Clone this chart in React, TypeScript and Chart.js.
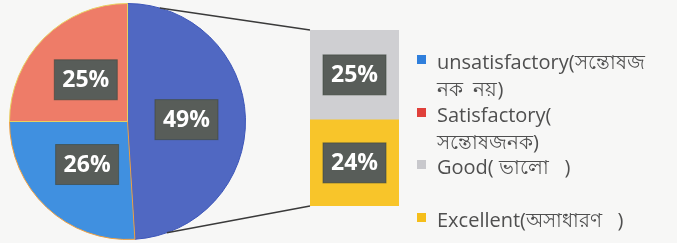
import React, { useEffect, useRef } from "react";
import { Chart, registerables } from "chart.js";

Chart.register(...registerables);

const categories = [
  "unsatisfactory(সন্তোষজনক নয়)",
  "Satisfactory(সন্তোষজনক)",
  "Good( ভালো )",
  "Excellent(অসাধারণ )",
];
const values = [26, 25, 25, 24];
const legendLines = [
  ["unsatisfactory(সন্তোষজ", "নক  নয়)"],
  ["Satisfactory(", "সন্তোষজনক)"],
  ["Good( ভালো   )"],
  ["Excellent(অসাধারণ   )"],
];
const seriesColors = ["#4090e0", "#ee7c68", "#cfcfd2", "#f8c52a"];
const legendColors = ["#2f7fdc", "#e0403a", "#c8c8cc", "#f5be1a"];
const otherColor = "#5068c2";

// Pie: "Other" (Good + Excellent), unsatisfactory, satisfactory
const pieValues = [values[2] + values[3], values[0], values[1]];
const pieColors = [otherColor, seriesColors[0], seriesColors[1]];
const pieBorders = ["#3c55b8", "#f0a040", "#e8d060"];

function drawLabel(ctx: CanvasRenderingContext2D, x: number, y: number, text: string) {
  const w = 63;
  const h = 40;
  ctx.save();
  ctx.fillStyle = "#585d59";
  ctx.fillRect(x - w / 2, y - h / 2, w, h);
  ctx.strokeStyle = "rgba(60,70,60,0.6)";
  ctx.lineWidth = 1;
  ctx.strokeRect(x - w / 2, y - h / 2, w, h);
  ctx.fillStyle = "#ffffff";
  ctx.font = "bold 23px 'Open Sans'";
  ctx.textAlign = "center";
  ctx.textBaseline = "middle";
  ctx.fillText(text, x, y + 1);
  ctx.restore();
}

export default function App() {
  const pieRef = useRef<HTMLCanvasElement>(null);
  const barRef = useRef<HTMLCanvasElement>(null);

  useEffect(() => {
    document.body.style.margin = "0";
    document.body.style.background = "#f7f7f6";
    if (!pieRef.current || !barRef.current) return;

    const pieLabels = {
      id: "pieLabels",
      afterDatasetsDraw(chart: any) {
        const meta = chart.getDatasetMeta(0);
        meta.data.forEach((arc: any, i: number) => {
          const p = arc.tooltipPosition();
          drawLabel(chart.ctx, p.x, p.y, pieValues[i] + "%");
        });
      },
    };

    const pie = new Chart(pieRef.current, {
      type: "pie",
      data: {
        labels: ["Other", categories[0], categories[1]],
        datasets: [
          {
            data: pieValues,
            backgroundColor: pieColors,
            borderColor: pieBorders,
            borderWidth: 1,
          },
        ],
      },
      options: {
        responsive: false,
        animation: false,
        layout: { padding: { left: 9, right: 431, top: 3, bottom: 3 } },
        plugins: { legend: { display: false }, tooltip: { enabled: false } },
      },
      plugins: [pieLabels],
    });

    const barExtras = {
      id: "barExtras",
      afterDatasetsDraw(chart: any) {
        const ctx = chart.ctx;
        const arc: any = pie.getDatasetMeta(0).data[0];
        const { x, y, outerRadius, startAngle, endAngle } = arc.getProps(
          ["x", "y", "outerRadius", "startAngle", "endAngle"],
          true
        );
        const span = endAngle - startAngle;
        const a1 = startAngle + 0.09 * span;
        const a2 = startAngle + 0.91 * span;
        const top: any = chart.getDatasetMeta(1).data[0];
        const bot: any = chart.getDatasetMeta(0).data[0];
        const left = top.x - top.width / 2;
        ctx.save();
        ctx.strokeStyle = "#3a3a3a";
        ctx.lineWidth = 1.5;
        ctx.beginPath();
        ctx.moveTo(x + outerRadius * Math.cos(a1), y + outerRadius * Math.sin(a1));
        ctx.lineTo(left, top.y);
        ctx.moveTo(x + outerRadius * Math.cos(a2), y + outerRadius * Math.sin(a2));
        ctx.lineTo(left, bot.base);
        ctx.stroke();
        ctx.restore();
        [0, 1].forEach((di) => {
          const el: any = chart.getDatasetMeta(di).data[0];
          const c = el.getCenterPoint();
          const v = chart.data.datasets[di].data[0];
          drawLabel(ctx, c.x, c.y, v + "%");
        });
      },
    };

    const bar = new Chart(barRef.current, {
      type: "bar",
      data: {
        labels: ["Other"],
        datasets: [
          {
            label: categories[3],
            data: [values[3]],
            backgroundColor: seriesColors[3],
            barPercentage: 1,
            categoryPercentage: 1,
          },
          {
            label: categories[2],
            data: [values[2]],
            backgroundColor: seriesColors[2],
            barPercentage: 1,
            categoryPercentage: 1,
          },
        ],
      },
      options: {
        responsive: false,
        animation: false,
        layout: { padding: { left: 310, right: 278, top: 30, bottom: 37 } },
        scales: {
          x: { display: false, stacked: true },
          y: { display: false, stacked: true, min: 0, max: values[2] + values[3] },
        },
        plugins: { legend: { display: false }, tooltip: { enabled: false } },
      },
      plugins: [barExtras],
    });

    return () => {
      bar.destroy();
      pie.destroy();
    };
  }, []);

  return (
    <div style={{ position: "relative", width: 677, height: 243, overflow: "hidden" }}>
      <canvas ref={pieRef} width={677} height={243} style={{ position: "absolute", left: 0, top: 0 }} />
      <canvas ref={barRef} width={677} height={243} style={{ position: "absolute", left: 0, top: 0 }} />
      <div
        style={{
          position: "absolute",
          left: 417,
          top: 48,
          fontFamily: "'Open Sans', 'Noto Sans', sans-serif",
          fontSize: 20,
          color: "#4f4f4f",
        }}
      >
        {legendLines.map((lines, i) => (
          <div key={i} style={{ position: "relative", height: 52.5, paddingLeft: 20 }}>
            <div
              style={{
                position: "absolute",
                left: 0,
                top: 7,
                width: 9,
                height: 9,
                background: legendColors[i],
              }}
            />
            {lines.map((t, j) => (
              <div key={j} style={{ lineHeight: "27px", whiteSpace: "pre" }}>
                {t}
              </div>
            ))}
          </div>
        ))}
      </div>
    </div>
  );
}
